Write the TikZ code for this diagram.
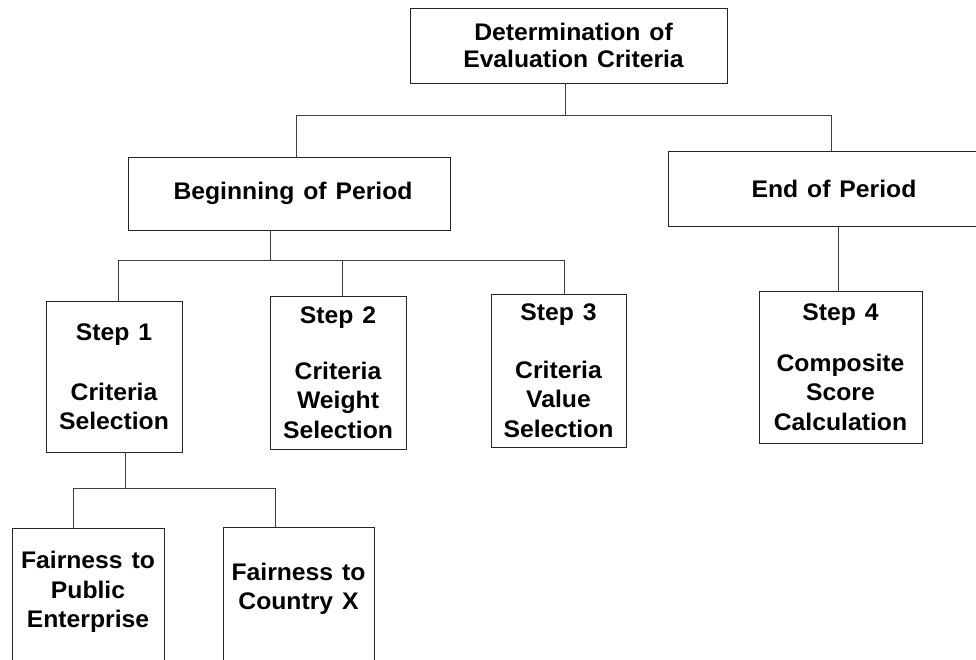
\documentclass[tikz,border=0pt]{standalone}
\usepackage{fontspec}
\setmainfont{Liberation Sans}[FakeStretch=1.03, WordSpace=1.3]
\begin{document}
\begin{tikzpicture}[x=1pt,y=-1pt,
  box/.style={draw=black!85, line width=0.8pt, rectangle, inner sep=0pt, align=center,
    font={\fontsize{24}{29.5}\selectfont\bfseries}},
  txt/.style={inner sep=0pt, align=center, font={\fontsize{24}{29.5}\selectfont\bfseries}},
  conn/.style={draw=black!75, line width=0.8pt}]
\useasboundingbox (0,0) rectangle (976,659);
\clip (0,0) rectangle (976,659);
\fill[white] (0,0) rectangle (976,659);

% boxes
\node[box, minimum width=317, minimum height=75,
  font={\fontsize{24}{27}\selectfont\bfseries}] (top) at (568.5,45.5) {\hspace*{10pt}Determination of\\\hspace*{10pt}Evaluation Criteria};
\node[box, minimum width=322, minimum height=73] (bop) at (289,193.5) {\hspace*{8pt}Beginning of Period};
\node[box, minimum width=332, minimum height=75] (eop) at (834,189) {End of Period};

\node[box, minimum width=136, minimum height=151] (s1) at (114,376.5) {Step 1\\[30.5pt]Criteria\\Selection};
\node[box, minimum width=136, minimum height=153] (s2) at (338,372.5) {Step 2\\[26.5pt]Criteria\\Weight\\Selection};
\node[box, minimum width=135, minimum height=153] (s3) at (558.5,370.5) {Step 3\\[28.5pt]Criteria\\Value\\Selection};
\node[box, minimum width=163, minimum height=152] (s4) at (840.5,367) {Step 4\\[21.5pt]Composite\\Score\\Calculation};

\node[box, minimum width=152, minimum height=160, anchor=north] (f1) at (88,528) {};
\node[txt] (f1t) at (88,592) {Fairness to\\Public\\Enterprise};
\node[box, minimum width=151, minimum height=160, anchor=north] (f2) at (298.5,527) {};
\node[txt] (f2t) at (298.5,589) {Fairness to\\Country X};

% junction coordinates
\coordinate (j1) at (565,115);
\coordinate (bl) at (296,115);
\coordinate (br) at (831,115);
\coordinate (j2) at (270,260);
\coordinate (c1) at (118,260);
\coordinate (c2) at (342,260);
\coordinate (c3) at (564,260);
\coordinate (c4) at (838,260);
\coordinate (j3) at (125,488);
\coordinate (d1) at (73,488);
\coordinate (d2) at (275,488);

% connectors
\draw[conn] (j1 |- top.south) -- (j1);
\draw[conn] (bl |- bop.north) -- (bl) -- (br) -- (br |- eop.north);
\draw[conn] (j2 |- bop.south) -- (j2);
\draw[conn] (c1 |- s1.north) -- (c1) -- (c3) -- (c3 |- s3.north);
\draw[conn] (c2) -- (c2 |- s2.north);
\draw[conn] (c4 |- eop.south) -- (c4 |- s4.north);
\draw[conn] (j3 |- s1.south) -- (j3);
\draw[conn] (d1 |- f1.north) -- (d1) -- (d2) -- (d2 |- f2.north);
\end{tikzpicture}
\end{document}
